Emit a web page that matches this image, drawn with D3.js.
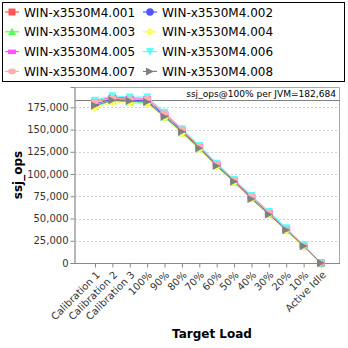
<!DOCTYPE html>
<html><head><meta charset="utf-8">
<script src="https://cdn.jsdelivr.net/npm/d3@7"></script>
<style>body{margin:0;background:#fff}svg{display:block}text{font-family:"DejaVu Sans",sans-serif}</style>
</head><body>
<script>
const categories = ["Calibration 1","Calibration 2","Calibration 3","100%","90%","80%","70%","60%","50%","40%","30%","20%","10%","Active Idle"];
const seriesNames = ["WIN-x3530M4.001","WIN-x3530M4.002","WIN-x3530M4.003","WIN-x3530M4.004","WIN-x3530M4.005","WIN-x3530M4.006","WIN-x3530M4.007","WIN-x3530M4.008"];
const s001 = [181000,185500,184500,184000,167000,149000,130500,111000,92500,74000,56000,37500,19000,0];
const s002 = [179000,184000,183000,182500,165500,147500,129500,110000,92000,73500,55500,37000,18500,0];
const s003 = [176000,182500,181000,180500,164000,146500,128500,109500,91000,72500,55000,36500,18500,0];
const s004 = [174000,180500,179500,179000,163000,145500,127500,108500,90500,72000,54500,36000,18000,0];
const s005 = [182000,186500,185500,185000,168000,150000,131500,111500,93000,75000,57000,38500,19500,0];
const s006 = [183000,188000,186500,186500,169500,151000,132000,112000,94000,76000,58000,39500,20500,0];
const s007 = [181500,185000,184000,184500,168500,150500,131000,111500,93500,75000,56500,38000,19500,0];
const s008 = [177000,183000,182000,181000,164500,147500,129000,109000,91500,72000,54500,37000,19000,0];
const seriesValues = [s001,s002,s003,s004,s005,s006,s007,s008];
const seriesColors = ["#ff5555","#5555ff","#55ff55","#ffff55","#ff55ff","#55ffff","#ffafaf","#808080"];
const yTicks = [0,25000,50000,75000,100000,125000,150000,175000];
const refValue = 182684;
const refLabel = "ssj_ops@100% per JVM=182,684";

const W=348,H=348;
const svg=d3.select("body").append("svg").attr("width",W).attr("height",H);
const pl=75,pr=340,pt=87,pb=263;
const y=d3.scaleLinear().domain([0,175000*(pb-pt)/155.7]).range([pb,pt]);
const x=d3.scalePoint().domain(categories).range([95,321]);

// legend
const lg=svg.append("g");
lg.append("rect").attr("x",2.5).attr("y",2.5).attr("width",342).attr("height",79).attr("fill","#fff").attr("stroke","#000").attr("stroke-width",1);

function marker(g,i,cx,cy){
  const c=seriesColors[i];
  let m;
  switch(i){
    case 0: m=g.append("rect").attr("x",cx-3.5).attr("y",cy-3.5).attr("width",7).attr("height",7);break;
    case 1: m=g.append("circle").attr("cx",cx).attr("cy",cy).attr("r",3.8);break;
    case 2: m=g.append("path").attr("d",`M${cx},${cy-4}L${cx+4},${cy+3.5}L${cx-4},${cy+3.5}Z`);break;
    case 3: m=g.append("path").attr("d",`M${cx},${cy-4}L${cx+4},${cy}L${cx},${cy+4}L${cx-4},${cy}Z`);break;
    case 4: m=g.append("rect").attr("x",cx-4).attr("y",cy-2).attr("width",8).attr("height",4.5);break;
    case 5: m=g.append("path").attr("d",`M${cx-4},${cy-3.5}L${cx+4},${cy-3.5}L${cx},${cy+4}Z`);break;
    case 6: m=g.append("ellipse").attr("cx",cx).attr("cy",cy).attr("rx",4).attr("ry",2.8);break;
    case 7: m=g.append("path").attr("d",`M${cx-4},${cy-4}L${cx+4},${cy}L${cx-4},${cy+4}Z`);break;
  }
  m.attr("fill",c);
}
seriesNames.forEach((n,i)=>{
  const col=i%2,row=Math.floor(i/2);
  const mx=col?150:12, ty=12+row*19.8;
  lg.append("line").attr("x1",mx-7).attr("x2",mx+7).attr("y1",ty).attr("y2",ty).attr("stroke",seriesColors[i]).attr("stroke-width",1.2);
  marker(lg,i,mx,ty);
  lg.append("text").attr("x",col?162:24).attr("y",ty+4.5).attr("font-size",12).attr("fill","#000").text(n);
});

// plot background and grid
svg.append("rect").attr("x",pl).attr("y",pt).attr("width",pr-pl).attr("height",pb-pt).attr("fill","#fff");
svg.append("g").selectAll("line").data(yTicks.filter(d=>d>0)).join("line")
  .attr("x1",pl).attr("x2",pr).attr("y1",d=>Math.round(y(d))+0.5).attr("y2",d=>Math.round(y(d))+0.5)
  .attr("stroke","#d0d0d0").attr("stroke-dasharray","2,2").attr("stroke-width",1);

// y axis
const ya=svg.append("g").attr("transform",`translate(${pl-0.5},0)`).call(d3.axisLeft(y).tickValues(yTicks).tickFormat(d3.format(",")).tickSize(4).tickPadding(2));
ya.select(".domain").attr("stroke","#888");
ya.selectAll(".tick line").attr("stroke","#888");
ya.selectAll("text").attr("font-size",10).attr("font-family","DejaVu Sans").attr("fill","#333");

// x axis
const xa=svg.append("g").attr("transform",`translate(0,${pb+0.5})`).call(d3.axisBottom(x).tickSize(4).tickSizeOuter(0));
xa.select(".domain").attr("d",`M${pl},0H${pr}`).attr("stroke","#888");
xa.selectAll(".tick line").attr("stroke","#888");
xa.selectAll("text").attr("font-size",10).attr("font-family","DejaVu Sans").attr("fill","#333")
  .attr("text-anchor","end").attr("x",0).attr("y",0).attr("dy",0).attr("transform","translate(5,12) rotate(-45)");

// plot border
svg.append("path").attr("d",`M${pl},${pb}V${pt+0.5}H${pr-0.5}V${pb}`).attr("fill","none").attr("stroke","#aaa");

// reference line
svg.append("line").attr("x1",pl).attr("x2",pr).attr("y1",Math.round(y(refValue))+0.5).attr("y2",Math.round(y(refValue))+0.5).attr("stroke","#808080").attr("stroke-width",1.2);
const rt=svg.append("text").attr("x",336).attr("y",y(refValue)-3).attr("text-anchor","end").attr("font-size",10).attr("fill","#000").text(refLabel);
const natural=rt.node().getComputedTextLength();
if(natural>150) rt.attr("font-size",10*150/natural);

// series
const line=d3.line().x((d,i)=>x(categories[i])).y(d=>y(d));
seriesValues.forEach((vals,i)=>{
  svg.append("path").datum(vals).attr("d",line).attr("fill","none").attr("stroke",seriesColors[i]).attr("stroke-width",1);
});
seriesValues.forEach((vals,i)=>{
  const g=svg.append("g");
  vals.forEach((v,j)=>marker(g,i,x(categories[j]),y(v)));
});

// axis titles
svg.append("text").attr("x",212).attr("y",338).attr("text-anchor","middle").attr("font-size",12).attr("font-weight","bold").text("Target Load");
svg.append("text").attr("transform",`translate(22,175) rotate(-90)`).attr("text-anchor","middle").attr("font-size",12).attr("font-weight","bold").text("ssj_ops");
</script>
</body></html>
